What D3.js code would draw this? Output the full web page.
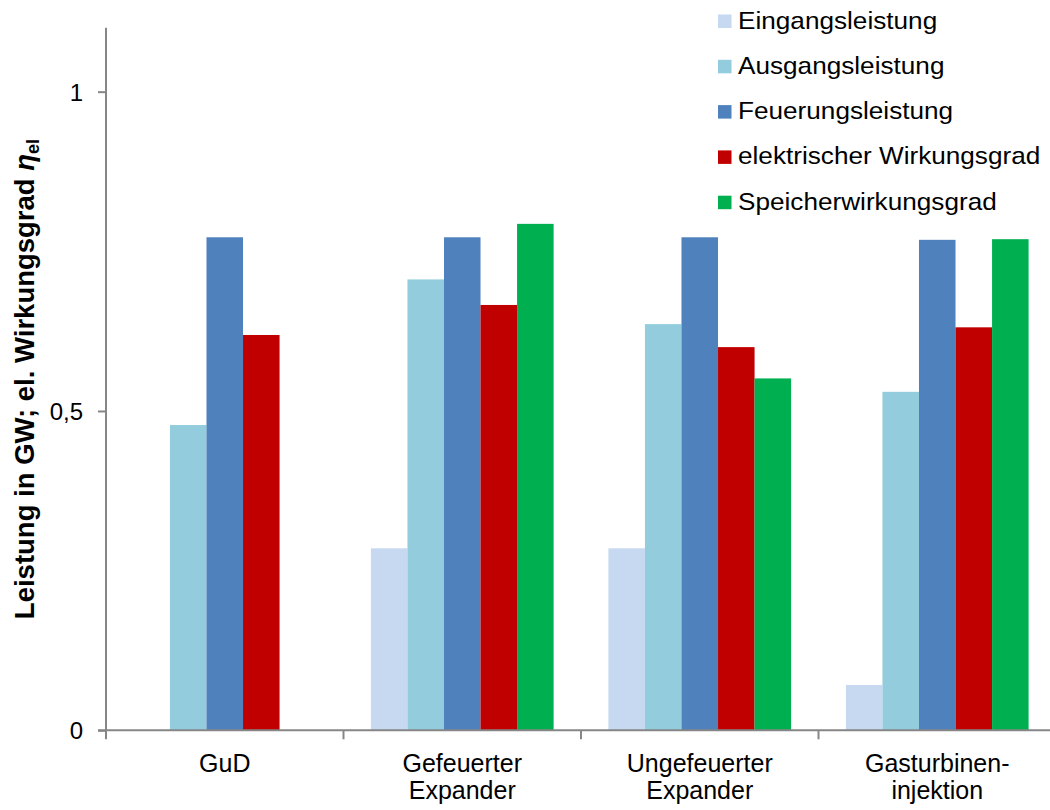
<!DOCTYPE html>
<html>
<head>
<meta charset="utf-8">
<script src="https://cdn.jsdelivr.net/npm/d3@7"></script>
<style>
  html, body { margin: 0; padding: 0; background: #fff; }
  svg { display: block; font-family: "Liberation Sans", Arial, sans-serif; }
</style>
</head>
<body>
<svg id="chart" width="1050" height="810"></svg>
<script>
// ---- data ----
const categories = ["GuD", "Gefeuerter Expander", "Ungefeuerter Expander", "Gasturbinen-injektion"];
const categoryLines = [["GuD"], ["Gefeuerter", "Expander"], ["Ungefeuerter", "Expander"], ["Gasturbinen-", "injektion"]];
const seriesNames = ["Eingangsleistung", "Ausgangsleistung", "Feuerungsleistung", "elektrischer Wirkungsgrad", "Speicherwirkungsgrad"];
const eingangsleistung = [0, 0.285, 0.285, 0.071];
const ausgangsleistung = [0.478, 0.706, 0.636, 0.530];
const feuerungsleistung = [0.772, 0.772, 0.772, 0.768];
const elWirkungsgrad = [0.619, 0.666, 0.600, 0.631];
const speicherwirkungsgrad = [0, 0.793, 0.551, 0.769];
const yTicks = [0, 0.5, 1];
const yTickLabels = ["0", "0,5", "1"];
const colors = ["#C6D9F1", "#93CDDD", "#4F81BD", "#C00000", "#00B050"];

const seriesValues = [eingangsleistung, ausgangsleistung, feuerungsleistung, elWirkungsgrad, speicherwirkungsgrad];

const svg = d3.select("#chart");
const axisColor = "#868686";

const x0 = d3.scaleBand().domain(categories).range([106, 1056]).paddingInner(0).paddingOuter(0);
const x1 = d3.scaleBand().domain(seriesNames).range([0, x0.bandwidth()]).paddingInner(0).paddingOuter(0.75);
const y = d3.scaleLinear().domain([0, 1.1]).range([730.3, 27.8]);
const color = d3.scaleOrdinal().domain(seriesNames).range(colors);

// bars
const rows = [];
categories.forEach((c, ci) => {
  seriesNames.forEach((s, si) => {
    const v = seriesValues[si][ci];
    if (v > 0) rows.push({ c, s, v });
  });
});

svg.append("g").selectAll("rect").data(rows).join("rect")
  .attr("x", d => x0(d.c) + x1(d.s))
  .attr("y", d => y(d.v))
  .attr("width", x1.bandwidth())
  .attr("height", d => y(0) - y(d.v))
  .attr("fill", d => color(d.s));

// y axis
const yAxis = d3.axisLeft(y).tickValues(yTicks).tickFormat((d, i) => yTickLabels[i]).tickSize(8).tickPadding(15);
const gy = svg.append("g").attr("transform", "translate(106,0)").call(yAxis);
gy.select(".domain").attr("stroke", axisColor).attr("stroke-width", 2).attr("d", `M0,${y(1.1)}V${y(0)}`);
gy.selectAll(".tick line").attr("stroke", axisColor).attr("stroke-width", 2);
gy.selectAll(".tick text").attr("fill", "#000").style("font-size", "24px")
  .style("font-family", "'Liberation Sans', Arial, sans-serif").attr("dy", "0.36em");

// x axis line
svg.append("line").attr("x1", 98).attr("x2", 1050).attr("y1", y(0)).attr("y2", y(0))
  .attr("stroke", axisColor).attr("stroke-width", 2);
// category boundary ticks
const boundaries = categories.map(c => x0(c));
svg.append("g").selectAll("line").data(boundaries).join("line")
  .attr("x1", d => d).attr("x2", d => d)
  .attr("y1", y(0)).attr("y2", y(0) + 9)
  .attr("stroke", axisColor).attr("stroke-width", 2);

// category labels
const lab = svg.append("g").selectAll("text").data(categories).join("text")
  .attr("x", c => x0(c) + x0.bandwidth() / 2)
  .attr("y", 772)
  .attr("text-anchor", "middle")
  .style("font-size", "25px")
  .attr("fill", "#000");
lab.each(function (c, i) {
  const t = d3.select(this);
  categoryLines[i].forEach((ln, j) => {
    t.append("tspan").attr("x", x0(c) + x0.bandwidth() / 2).attr("dy", j === 0 ? 0 : 26.5).text(ln);
  });
});

// y label
const yl = svg.append("text")
  .attr("transform", "translate(34,379) rotate(-90)")
  .attr("text-anchor", "middle")
  .style("font-size", "27.5px")
  .style("font-weight", "bold")
  .attr("fill", "#000");
yl.append("tspan").text("Leistung in GW; el. Wirkungsgrad ");
yl.append("tspan").style("font-style", "italic").text("η");
yl.append("tspan").attr("dy", 5).style("font-size", "18px").text("el");

// legend
const legend = svg.append("g").selectAll("g").data(seriesNames).join("g")
  .attr("transform", (d, i) => `translate(718,${21 + i * 45.3})`);
legend.append("rect").attr("x", 0).attr("y", -6.5).attr("width", 13.5).attr("height", 13.5)
  .attr("fill", d => color(d));
legend.append("text").attr("transform", "translate(20,7.5) scale(1.09,1)")
  .style("font-size", "24px").attr("fill", "#000").text(d => d);
</script>
</body>
</html>
